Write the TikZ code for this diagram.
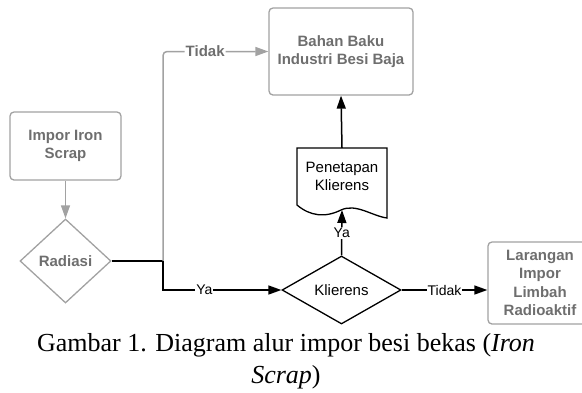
\documentclass[tikz,border=0pt]{standalone}
\usepackage{fontspec}
\setmainfont{Liberation Serif}
\setsansfont{Liberation Sans}
\usepackage{tikz}
\usetikzlibrary{shapes, arrows.meta, positioning}

\definecolor{lineGray}{HTML}{A2A2A2}
\definecolor{textGray}{HTML}{6E6E6E}

\tikzset{
	grayBox/.style={draw=lineGray, rounded corners=4pt, line width=1.3pt,
		text=textGray, font=\sffamily\bfseries\fontsize{15}{18.5}\selectfont,
		align=center, inner sep=0pt},
	decision/.style={diamond, draw, line width=1.3pt, inner sep=0pt},
	flow/.style={line width=1.5pt, -{Triangle[length=13pt, width=9pt]}},
	grayFlow/.style={flow, draw=lineGray, rounded corners=4pt},
	lbl/.style={fill=white, inner sep=1pt, font=\sffamily\fontsize{14}{16}\selectfont},
}

\begin{document}
\begin{tikzpicture}[x=1pt, y=-1pt]
	\useasboundingbox (0,0) rectangle (582,392);

	% boxes
	\node[grayBox, minimum width=144pt, minimum height=87pt] (bahan) at (341,51.5)
		{Bahan Baku\\Industri Besi Baja};
	\node[grayBox, minimum width=111pt, minimum height=68pt] (impor) at (65.5,146)
		{Impor Iron\\Scrap};
	\node[grayBox, minimum width=104pt, minimum height=82pt] (larangan) at (540,283)
		{Larangan\\Impor\\Limbah\\Radioaktif};

	% decisions
	\node[decision, draw=lineGray, text=textGray, minimum width=91pt, minimum height=84pt,
		font=\sffamily\bfseries\fontsize{15}{18}\selectfont] (radiasi) at (65.5,261) {Radiasi};
	\node[decision, minimum width=119pt, minimum height=68pt,
		font=\sffamily\fontsize{15}{18}\selectfont] (klierens) at (341.5,290) {Klierens};

	% document with wavy bottom
	\node[align=center, inner sep=0pt, minimum width=90pt, minimum height=57pt,
		font=\sffamily\fontsize{15}{18}\selectfont] (penetapan) at (342,176.5)
		{Penetapan\\Klierens};
	\draw[line width=1.3pt] (297,205) -- (297,148) -- (387,148) -- (387,218)
		.. controls (372,216) and (356,203) .. (341,210)
		.. controls (325,218) and (310,216) .. (297,205) -- cycle;
	\coordinate (penetapanBottom) at (342,210);

	% connectors
	\coordinate (split) at (163,261);
	\draw[grayFlow] (impor) -- (radiasi);
	\draw[line width=1.5pt] (radiasi.east) -- (split);
	\draw[grayFlow] (split) |- node[lbl, pos=0.7, text=textGray,
		font=\sffamily\bfseries\fontsize{15}{18}\selectfont] {Tidak} (bahan.west);
	\draw[flow] (split) |- node[lbl, pos=0.675] {Ya} (klierens.west);
	\draw[flow] (klierens.north) -- node[lbl] {Ya} (penetapanBottom);
	\draw[flow] (penetapan.north) -- (bahan.south);
	\draw[flow] (klierens.east) -- node[lbl, pos=0.5] {Tidak} (larangan.west |- klierens.east);

	% caption
	\node[align=center, font=\fontsize{26}{32}\selectfont] (caption) at (286,361)
		{Gambar 1. Diagram alur impor besi bekas (\textit{Iron}\\\textit{Scrap})};
\end{tikzpicture}
\end{document}
